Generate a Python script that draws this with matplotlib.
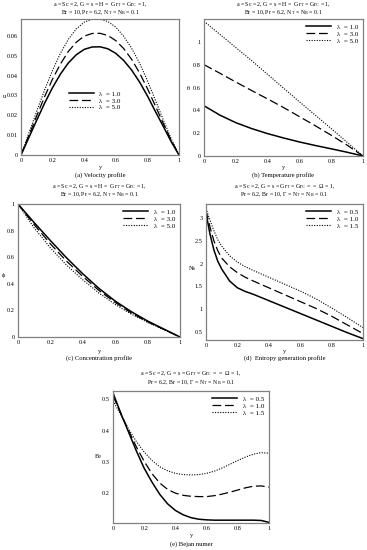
import matplotlib
matplotlib.use("Agg")
import matplotlib.pyplot as plt
from matplotlib.ticker import FuncFormatter

plt.rcParams['font.family'] = ['Liberation Serif', 'DejaVu Serif']
plt.rcParams['mathtext.fontset'] = 'stix'

# ---------------- data ----------------
y21 = [i * 0.05 for i in range(21)]
y11 = [i * 0.1 for i in range(11)]

# (a) velocity
u_l1 = [0, 0.0088, 0.0176, 0.0262, 0.0340, 0.0408, 0.0464, 0.0505, 0.0532, 0.0544, 0.0545,
        0.0535, 0.0512, 0.0476, 0.0428, 0.0368, 0.0298, 0.0220, 0.0145, 0.0068, 0]
u_l3 = [0, 0.0099, 0.0198, 0.0295, 0.0383, 0.0459, 0.0522, 0.0568, 0.0599, 0.0612, 0.0613,
        0.0602, 0.0576, 0.0536, 0.0482, 0.0414, 0.0335, 0.0248, 0.0160, 0.0075, 0]
u_l5 = [0, 0.0111, 0.0221, 0.0329, 0.0427, 0.0513, 0.0583, 0.0635, 0.0669, 0.0684, 0.0685,
        0.0672, 0.0644, 0.0598, 0.0538, 0.0463, 0.0375, 0.0277, 0.0178, 0.0083, 0]

# (b) temperature
t_l1 = [0.44, 0.358, 0.292, 0.24, 0.196, 0.158, 0.123, 0.092, 0.063, 0.033, 0.0]
t_l3 = [0.80, 0.725, 0.648, 0.573, 0.5, 0.425, 0.345, 0.265, 0.182, 0.095, 0.0]
t_l5 = [1.18, 1.065, 0.95, 0.835, 0.715, 0.595, 0.475, 0.358, 0.24, 0.12, 0.0]

# (c) concentration
c_l1 = [1, 0.86, 0.725, 0.595, 0.475, 0.365, 0.27, 0.19, 0.12, 0.06, 0]
c_l3 = [1, 0.845, 0.70, 0.57, 0.455, 0.35, 0.26, 0.18, 0.115, 0.057, 0]
c_l5 = [1, 0.82, 0.67, 0.54, 0.43, 0.33, 0.245, 0.172, 0.11, 0.055, 0]

# (d) entropy generation
yd = [0, 0.025, 0.05, 0.075, 0.1, 0.15, 0.2, 0.25, 0.3, 0.4, 0.5, 0.6, 0.7, 0.8, 0.9, 1.0]
ns_l05 = [3.1, 2.65, 2.3, 2.05, 1.88, 1.62, 1.47, 1.39, 1.33, 1.19, 1.05, 0.91, 0.77, 0.63, 0.49, 0.36]
ns_l10 = [3.15, 2.8, 2.5, 2.28, 2.12, 1.93, 1.8, 1.7, 1.62, 1.47, 1.32, 1.17, 1.02, 0.85, 0.66, 0.47]
ns_l15 = [3.2, 2.95, 2.72, 2.52, 2.38, 2.17, 2.03, 1.93, 1.85, 1.7, 1.55, 1.4, 1.23, 1.03, 0.82, 0.6]

# (e) Bejan number
be_l05 = [0.52, 0.455, 0.395, 0.335, 0.28, 0.236, 0.197, 0.167, 0.146, 0.132, 0.123, 0.118, 0.116,
          0.115, 0.115, 0.115, 0.115, 0.115, 0.115, 0.114, 0.108]
be_l10 = [0.51, 0.455, 0.40, 0.348, 0.302, 0.263, 0.233, 0.213, 0.201, 0.194, 0.191, 0.19, 0.19,
          0.193, 0.198, 0.204, 0.211, 0.218, 0.223, 0.224, 0.22]
be_l15 = [0.495, 0.45, 0.405, 0.365, 0.332, 0.305, 0.285, 0.272, 0.264, 0.26, 0.259, 0.26, 0.264,
          0.271, 0.281, 0.293, 0.305, 0.316, 0.325, 0.33, 0.328]

xticks = [0, 0.2, 0.4, 0.6, 0.8, 1]
labels_a = ['λ  = 1.0', 'λ  = 3.0', 'λ  = 5.0']
labels_d = ['λ  = 0.5', 'λ  = 1.0', 'λ  = 1.5']

title1_abc = ['a = Sc = 2, G = s = H =  Gr$_\\mathregular{T}$ = Gr$_\\mathregular{C}$ = 1,',
              'Br = 10, Pr = 6.2, N$_\\mathregular{T}$ = N$_\\mathregular{B}$ = 0.1']
title1_de = ['a = Sc = 2, G = s = Gr$_\\mathregular{T}$ = Gr$_\\mathregular{C}$ =  =  Ω = 1,',
             'Pr = 6.2, Br = 10, Γ = N$_\\mathregular{T}$ = N$_\\mathregular{B}$ = 0.1']

# ---------------- figure ----------------
W, H = 367, 550
fig = plt.figure(figsize=(W / 100, H / 100), dpi=100)
fig.patch.set_facecolor('white')

FS = 4.5
TFS = 4.2
CFS = 4.8
styles = [dict(color='black', lw=1.1, ls='-'),
          dict(color='black', lw=0.9, ls=(0, (7, 3))),
          dict(color='black', lw=0.8, ls=(0, (1, 1.3)))]


def fmt(v, pos):
    return '%g' % round(v, 4)


def make_axes(L, R, T, B):
    ax = fig.add_axes([L / W, 1 - B / H, (R - L) / W, (B - T) / H])
    for sp in ax.spines.values():
        sp.set_color('#808080')
        sp.set_linewidth(0.9)
    ax.tick_params(length=0, labelsize=FS, pad=2.5, colors='black')
    ax.xaxis.set_major_formatter(FuncFormatter(fmt))
    ax.yaxis.set_major_formatter(FuncFormatter(fmt))
    ax.set_xlim(0, 1)
    ax.set_xticks(xticks)
    return ax


def ftext(x, y, s, size=FS, **kw):
    fig.text(x / W, 1 - y / H, s, fontsize=size, ha='center', va='center', **kw)


def panel(L, R, T, B, xs, series, labels, ylim, yticks, ylabel, ylab_xy,
          titles, title_y, xlab_y, caption, cap_y, leg_loc, leg_anchor):
    ax = make_axes(L, R, T, B)
    for ys, st, lab in zip(series, styles, labels):
        ax.plot(xs, ys, label=lab, **st)
    ax.set_ylim(*ylim)
    ax.set_yticks(yticks)
    cx = (L + R) / 2
    ftext(cx, title_y[0], titles[0], size=TFS)
    ftext(cx, title_y[1], titles[1], size=TFS)
    ftext(cx, xlab_y, 'y')
    ftext(cx, cap_y, caption, size=CFS)
    ftext(ylab_xy[0], ylab_xy[1], ylabel)
    ax.legend(loc=leg_loc, bbox_to_anchor=leg_anchor, frameon=False, fontsize=5,
              handlelength=3.6, handletextpad=0.8, labelspacing=0.15, borderpad=0.2)
    return ax


# (a)
panel(21, 179, 19, 155, y21, [u_l1, u_l3, u_l5], labels_a, (0, 0.0685),
      [0, 0.01, 0.02, 0.03, 0.04, 0.05, 0.06], 'u', (4, 97),
      title1_abc, (5, 13), 168, '(a) Velocity profile', 175,
      'center left', (0.27, 0.40))

# (b)
panel(204, 363, 19, 156, y11, [t_l1, t_l3, t_l5], labels_a, (0, 1.2),
      [0, 0.2, 0.4, 0.6, 0.8, 1], 'θ', (188, 88),
      title1_abc, (5, 13), 168, '(b) Temperature profile', 175,
      'upper right', (1.0, 1.0))

# (c)
panel(18, 180, 204, 337, y11, [c_l1, c_l3, c_l5], labels_a, (0, 1),
      [0, 0.2, 0.4, 0.6, 0.8, 1], 'ϕ', (3, 275),
      title1_abc, (187, 195), 351, '(c) Concentration profile', 358,
      'upper right', (1.0, 1.0))

# (d)
panel(206, 363, 204, 340, yd, [ns_l05, ns_l10, ns_l15], labels_d, (0.33, 3.3),
      [0.5, 1, 1.5, 2, 2.5, 3], 'Ns', (192, 268),
      title1_de, (187, 195), 351, '(d)  Entropy generation profile', 358,
      'upper right', (1.0, 1.0))

# (e)
panel(113, 269, 391, 523, y21, [be_l05, be_l10, be_l15], labels_d, (0.106, 0.526),
      [0.2, 0.3, 0.4, 0.5], 'Be', (98, 457),
      title1_de, (374, 383), 536, '(e) Bejan numer', 544,
      'upper right', (1.0, 1.0))

fig.savefig('out.png', dpi=100, facecolor='white')
